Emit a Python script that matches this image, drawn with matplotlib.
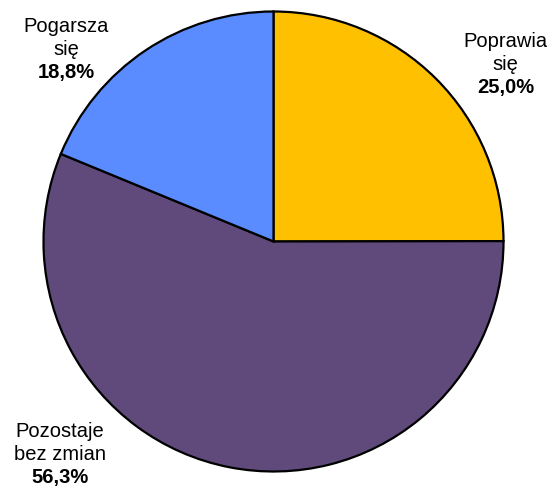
import matplotlib
matplotlib.use("Agg")
import matplotlib.pyplot as plt

categories = ["Poprawia się", "Pozostaje bez zmian", "Pogarsza się"]
values = [25.0, 56.3, 18.8]
label_lines = [["Poprawia", "się"], ["Pozostaje", "bez zmian"], ["Pogarsza", "się"]]
pct_labels = ["25,0%", "56,3%", "18,8%"]
colors = ["#FFC000", "#604A7B", "#5B8CFF"]

W, H = 553, 491
fig = plt.figure(figsize=(W / 100, H / 100), dpi=100)
ax = fig.add_axes([0, 0, 1, 1])
ax.set_xlim(0, W)
ax.set_ylim(0, H)
ax.axis("off")

cx, cy, r = 273.5, H - 241.5, 230
ax.pie(values, colors=colors, startangle=90, counterclock=False,
       center=(cx, cy), radius=r,
       wedgeprops=dict(edgecolor="black", linewidth=1.6))
ax.set_xlim(0, W)
ax.set_ylim(0, H)
ax.set_aspect("equal")

# label anchor positions (x center, first-line baseline in pixels from top)
anchors = [(505.5, 47), (60, 437), (66, 32)]
step = 23
fs = 14.5
for (x, y0), lines, pct in zip(anchors, label_lines, pct_labels):
    for i, ln in enumerate(lines):
        ax.text(x, H - (y0 + i * step), ln, ha="center", va="baseline",
                fontsize=fs, family="Liberation Sans", color="black")
    ax.text(x, H - (y0 + 2 * step), pct, ha="center", va="baseline",
            fontsize=fs, family="Liberation Sans", fontweight="bold", color="black")

fig.savefig("out.png", dpi=100)
